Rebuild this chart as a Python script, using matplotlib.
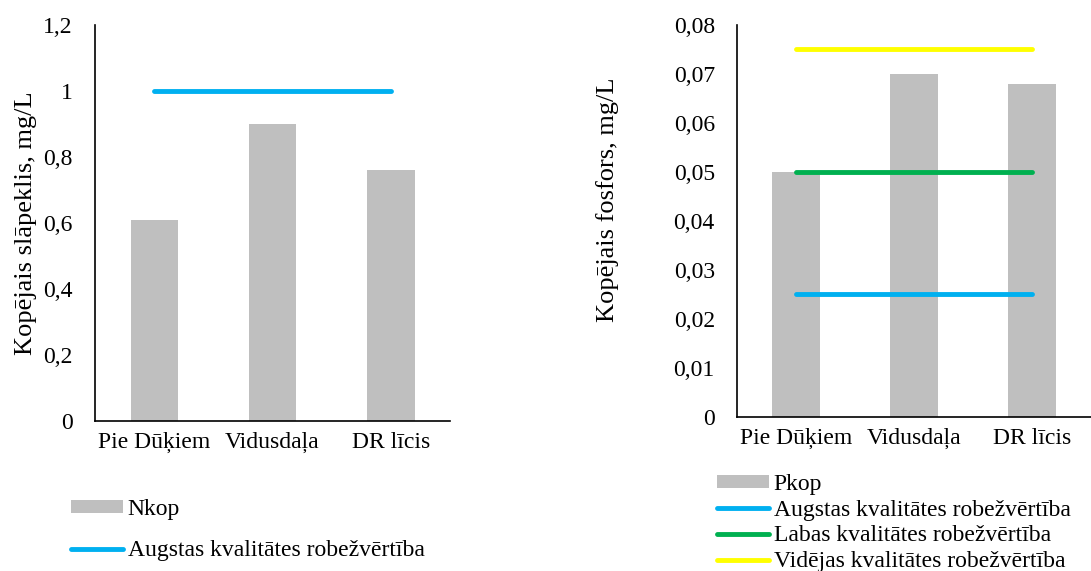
import matplotlib
matplotlib.use("Agg")
import matplotlib.pyplot as plt
import numpy as np

plt.rcParams['font.family'] = ['Liberation Serif', 'DejaVu Serif']

# data
categories = ['Pie Dūķiem', 'Vidusdaļa', 'DR līcis']
nkop = [0.61, 0.90, 0.76]
n_augstas = [1.0, 1.0, 1.0]
n_ticks = [0, 0.2, 0.4, 0.6, 0.8, 1.0, 1.2]
n_ticklabels = ['0', '0,2', '0,4', '0,6', '0,8', '1', '1,2']

pkop = [0.050, 0.070, 0.068]
p_augstas = [0.025, 0.025, 0.025]
p_labas = [0.050, 0.050, 0.050]
p_videjas = [0.075, 0.075, 0.075]
p_ticks = [0, 0.01, 0.02, 0.03, 0.04, 0.05, 0.06, 0.07, 0.08]
p_ticklabels = ['0', '0,01', '0,02', '0,03', '0,04', '0,05', '0,06', '0,07', '0,08']

BAR = '#BFBFBF'
BLUE = '#00B0F0'
GREEN = '#00B050'
YELLOW = '#FFFF00'
FS = 17
W, H = 1091, 571

fig = plt.figure(figsize=(W / 100, H / 100), dpi=100)
ax1 = fig.add_axes([95 / W, 1 - 421 / H, 355 / W, 396 / H])
ax2 = fig.add_axes([737 / W, 1 - 416.7 / H, 354 / W, 391.7 / H])

x = np.arange(len(categories))


def style(ax, ticks, ticklabels, ymax):
    ax.set_xlim(-0.5, len(categories) - 0.5)
    ax.set_ylim(0, ymax)
    ax.set_yticks(ticks)
    ax.set_yticklabels(ticklabels)
    ax.set_xticks(x)
    ax.set_xticklabels(categories)
    for s in ['top', 'right']:
        ax.spines[s].set_visible(False)
    for s in ['left', 'bottom']:
        ax.spines[s].set_linewidth(1.2)
        ax.spines[s].set_color('black')
    ax.tick_params(axis='y', length=0, pad=16, labelsize=FS)
    ax.tick_params(axis='x', length=0, pad=8, labelsize=FS)


def legend_items(ax):
    # bars first, then lines, like the source
    h, l = ax.get_legend_handles_labels()
    order = [len(h) - 1] + list(range(len(h) - 1))
    return [h[i] for i in order], [l[i] for i in order]


# left: nitrogen
ax1.bar(x, nkop, width=0.4, color=BAR, label='Nkop', zorder=2)
ax1.plot(x, n_augstas, color=BLUE, lw=3.5, solid_capstyle='round',
         label='Augstas kvalitātes robežvērtība', zorder=3)
style(ax1, n_ticks, n_ticklabels, 1.2)
ax1.set_ylabel('Kopējais slāpeklis, mg/L', fontsize=19, va='center')
ax1.yaxis.set_label_coords(-0.193, 0.5)

# right: phosphorus
ax2.bar(x, pkop, width=0.4, color=BAR, label='Pkop', zorder=2)
ax2.plot(x, p_augstas, color=BLUE, lw=3.5, solid_capstyle='round',
         label='Augstas kvalitātes robežvērtība', zorder=3)
ax2.plot(x, p_labas, color=GREEN, lw=3.5, solid_capstyle='round',
         label='Labas kvalitātes robežvērtība', zorder=3)
ax2.plot(x, p_videjas, color=YELLOW, lw=3.5, solid_capstyle='round',
         label='Vidējas kvalitātes robežvērtība', zorder=3)
style(ax2, p_ticks, p_ticklabels, 0.08)
ax2.set_ylabel('Kopējais fosfors, mg/L', fontsize=19, va='center')
ax2.yaxis.set_label_coords(-0.366, 0.553)

leg_kw = dict(frameon=False, fontsize=FS, borderpad=0, borderaxespad=0,
              handlelength=2.2, handletextpad=0.2, handleheight=0.5)
fig.legend(*legend_items(ax1), loc='upper left',
           bbox_to_anchor=(71 / W, 1 - 499 / H), labelspacing=0.85, **leg_kw)
fig.legend(*legend_items(ax2), loc='upper left',
           bbox_to_anchor=(717 / W, 1 - 474 / H), labelspacing=0.2, **leg_kw)

fig.savefig('out.png', dpi=100)
